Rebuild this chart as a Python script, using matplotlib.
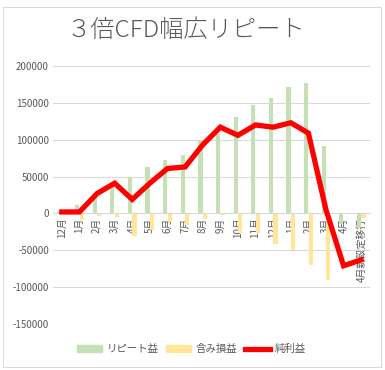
import matplotlib
matplotlib.use("Agg")
import numpy as np
from matplotlib import pyplot as plt
from matplotlib.patches import Rectangle, Patch
from matplotlib.lines import Line2D

plt.rcParams['font.family'] = ['Noto Sans CJK JP', 'DejaVu Sans']

# month labels and values
months = ['12月', '1月', '2月', '3月', '4月', '5月', '6月', '7月', '8月', '9月',
          '10月', '11月', '12月', '1月', '2月', '3月', '4月', '4月新設定移行']
repeat_profit = [2000, 11000, 27000, 36000, 49000, 63000, 72000, 79000, 100000, 108000,
                 131000, 147000, 156000, 172000, 177000, 91000, -15000, -20000]
unrealized = [-1000, -9500, -4000, -5000, -30000, -23000, -12000, -16000, -8000, -2000,
              -27000, -27000, -41000, -50000, -70000, -90000, 0, -6000]
net_profit = [2000, 2000, 27000, 41000, 19000, 41000, 61000, 63000, 93000, 117000,
              106000, 120000, 117000, 123000, 109000, 5000, -71000, -63000]
yticks = [-150000, -100000, -50000, 0, 50000, 100000, 150000, 200000]

GREEN = '#C5E0B4'
YELLOW = '#FFE699'
RED = '#FF0000'
TXT = '#595959'

fig = plt.figure(figsize=(3.85, 3.70), dpi=100)
ax = fig.add_axes([53/385, 1-324/370, 317/385, 258/370])

x = np.arange(len(months))
w = 0.24
ax.bar(x - 0.13, repeat_profit, w, color=GREEN, zorder=2)
ax.bar(x + 0.13, unrealized, w, color=YELLOW, zorder=2)
ax.plot(x, net_profit, color=RED, linewidth=3.8, solid_joinstyle='miter', zorder=3)

ax.set_xlim(-0.5, len(months) - 0.5)
ax.set_ylim(-150000, 200000)
ax.set_yticks(yticks)
ax.set_yticklabels([str(v) for v in yticks], fontsize=7, color=TXT)
ax.yaxis.grid(True, color='#D9D9D9', linewidth=0.75, zorder=0)
ax.set_axisbelow(True)

for s in ['top', 'right', 'left']:
    ax.spines[s].set_visible(False)
ax.spines['bottom'].set_position(('data', 0))
ax.spines['bottom'].set_color('#D9D9D9')
ax.spines['bottom'].set_linewidth(0.75)
ax.set_xticks(x)
ax.set_xticklabels(months, rotation=90, fontsize=7, color=TXT, va='top', ha='center')
ax.tick_params(axis='both', length=0, pad=3)

fig.text(0.482, 1 - 30/370, '３倍CFD幅広リピート', fontsize=17.5, color=TXT,
         fontweight='light', ha='center', va='center')

handles = [Patch(color=GREEN), Patch(color=YELLOW), Line2D([], [], color=RED, linewidth=3.8)]
fig.legend(handles, ['リピート益', '含み損益', '純利益'], loc='center',
           bbox_to_anchor=(0.497, 1 - 349/370), ncol=3, frameon=False, fontsize=7.5,
           labelcolor=TXT, handlelength=2.4, handleheight=0.6, columnspacing=0.8,
           handletextpad=0.4)

fig.patches.append(Rectangle((3/385, 1 - 367/370), 378/385, 360/370, transform=fig.transFigure,
                             fill=False, edgecolor='#D9D9D9', linewidth=0.75))

fig.savefig('out.png', dpi=100)
